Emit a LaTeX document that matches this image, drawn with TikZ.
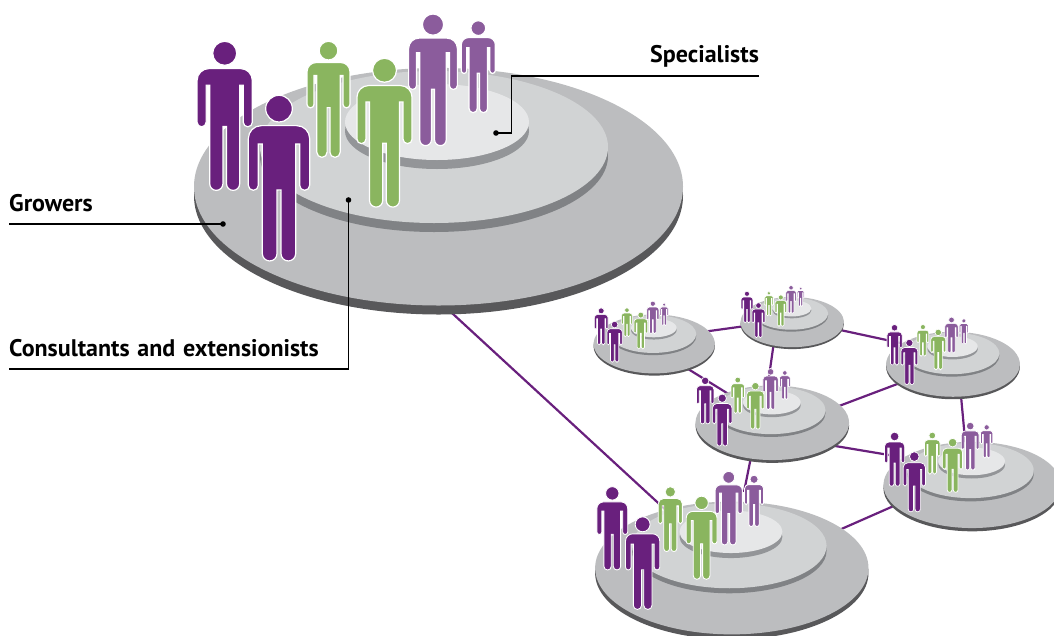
\documentclass[tikz,border=0pt]{standalone}
\usepackage{fontspec}
\setmainfont{PT Sans}
\definecolor{pdark}{HTML}{69207D}
\definecolor{plight}{HTML}{8B5C9C}
\definecolor{pgreen}{HTML}{8AB55F}
\definecolor{discA}{HTML}{BCBDBF}
\definecolor{discAedge}{HTML}{58585A}
\definecolor{discB}{HTML}{D1D3D4}
\definecolor{discBedge}{HTML}{808285}
\definecolor{discC}{HTML}{E6E7E8}
\definecolor{discCedge}{HTML}{939598}
\tikzset{
  link/.style={draw=pdark,line width=2.2pt},
  leader/.style={draw=black,line width=1.2pt},
  label/.style={font=\bfseries\fontsize{24}{27}\selectfont,anchor=base west,inner sep=0pt,text=black},
  dotend/.style={fill=black,draw=none},
  figure/.style={fill=#1,draw=white,line width=0.45pt+0.75pt*\clscale}
}
% person: #1 colour, #2 cx, #3 top y, #4 height (main-picture pixels)
\newcommand{\person}[4]{%
  \begin{scope}[shift={(#2,#3)},scale=#4/501]
    \path[figure=#1] (0,40) circle (40);
    \path[figure=#1]
      (-92,130) arc (180:270:39) -- (53,91) arc (-90:0:39)
      -- (92,270) arc (0:180:15) -- (62,146) -- (50,146) -- (50,475)
      arc (0:180:22) -- (6,284) -- (-6,284) -- (-6,475) arc (0:180:22)
      -- (-50,146) -- (-62,146) -- (-62,270) arc (0:180:15) -- cycle;
  \end{scope}}
% cluster: #1 name, #2 cx, #3 cy, #4 scale
\newcommand{\cluster}[4]{%
  \coordinate (#1) at (#2,#3);
  \def\clscale{#4}%
  \begin{scope}[shift={(#2,#3)},scale=#4]
    \fill[discAedge] (0,10.7) ellipse (244.5 and 118.8);
    \fill[discA] (0,1.7) ellipse (244.5 and 118.8);
    \fill[discBedge] (-4.5,-29) ellipse (174 and 76);
    \fill[discB] (-4.5,-38) ellipse (174 and 76);
    \fill[discCedge] (-1.5,-54) ellipse (92 and 38);
    \fill[discC] (-1.5,-63) ellipse (92 and 38);
    \person{plight}{39.8}{-164.3}{92.7}
    \person{plight}{-5.5}{-171}{132.7}
    \person{pgreen}{-110}{-143.7}{117}
    \person{pgreen}{-54}{-126.7}{150}
    \person{pdark}{-213.8}{-143.7}{150.3}
    \person{pdark}{-159.5}{-89.7}{167}
  \end{scope}}
\begin{document}
\begin{tikzpicture}[x=1pt,y=-1pt]
  \useasboundingbox (0,0) rectangle (1054,635);
  % link end points
  \coordinate (m1) at (440,302); \coordinate (b1) at (668,512);
  \coordinate (tl1) at (700,332.3); \coordinate (tm1) at (750,325.4);
  \coordinate (tm2) at (830,327.8); \coordinate (tr1) at (900,342.9);
  \coordinate (tm3) at (774.5,338); \coordinate (c1) at (768.5,380);
  \coordinate (tl2) at (680,364); \coordinate (c2) at (735,398);
  \coordinate (c3) at (830,409.4); \coordinate (tr2) at (910,379.2);
  \coordinate (c4) at (825,444.3); \coordinate (lr1) at (900,456.8);
  \coordinate (tr3) at (960,385); \coordinate (lr2) at (965.5,445);
  \coordinate (c5) at (752,452); \coordinate (b2) at (744,492);
  \coordinate (b3) at (830,534); \coordinate (lr3) at (905,501);
  \foreach \a/\b in {m1/b1,tl1/tm1,tm2/tr1,tm3/c1,tl2/c2,c3/tr2,c4/lr1,tr3/lr2,c5/b2,b3/lr3}
    \draw[link] (\a) -- (\b);
  \cluster{clTM}{792.2}{321.7}{0.2116}
  \cluster{clTL}{654.2}{343.5}{0.248}
  \cluster{clTR}{953}{363.8}{0.2735}
  \cluster{clC}{772.3}{422.2}{0.314}
  \cluster{clLR}{972.2}{484.3}{0.363}
  \cluster{clB}{731.8}{567}{0.559}
  \cluster{clMain}{438.5}{185}{1}
  % labels and leaders
  \node[label] (spec) at (650,62) {Specialists};
  \node[label] (grow) at (9,211) {Growers};
  \node[label] (cons) at (9,356) {\spaceskip=7.8pt\relax Consultants and extensionists};
  \coordinate (specEnd) at (759,76);
  \coordinate (growStart) at (9,224);
  \coordinate (consStart) at (9,369);
  \coordinate (specDot) at (496,133);
  \coordinate (growDot) at (223,224);
  \coordinate (consDot) at (348.5,200);
  \draw[leader] (specEnd) -- (511.5,76) -- (511.5,133) -- (specDot);
  \draw[leader] (growStart) -- (growDot);
  \draw[leader] (consStart) -- (348.5,369) -- (consDot);
  \fill[dotend] (specDot) circle (2.8);
  \fill[dotend] (growDot) circle (2.8);
  \fill[dotend] (consDot) circle (2.8);
\end{tikzpicture}
\end{document}
